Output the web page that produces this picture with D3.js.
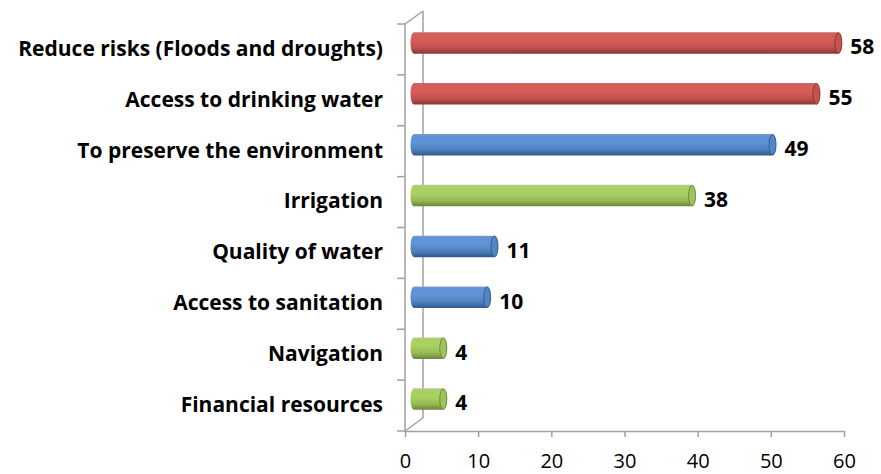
<!DOCTYPE html>
<html>
<head>
<meta charset="utf-8">
<script src="https://cdn.jsdelivr.net/npm/d3@7"></script>
<style>
	html, body { margin: 0; padding: 0; background: #ffffff; }
	svg { display: block; }
	.cat { font-family: "Open Sans", sans-serif; font-weight: bold; font-size: 21px; fill: #000; }
	.val { font-family: "Open Sans", sans-serif; font-weight: bold; font-size: 21px; fill: #000; }
	.xaxis text { font-family: "Open Sans", sans-serif; font-size: 20px; fill: #000; }
</style>
</head>
<body>
<script>
	// DATA //

	var categories = [
		'Reduce risks (Floods and droughts)',
		'Access to drinking water',
		'To preserve the environment',
		'Irrigation',
		'Quality of water',
		'Access to sanitation',
		'Navigation',
		'Financial resources'
	];

	var values = [ 58, 55, 49, 38, 11, 10, 4, 4 ];

	// colour group of each bar:
	var groups = [ 'red', 'red', 'blue', 'green', 'blue', 'blue', 'green', 'green' ];

	var xTicks = [ 0, 10, 20, 30, 40, 50, 60 ];


	// VARIABLES //

	var WIDTH = 881,
		HEIGHT = 474,
		LEFT = 405,
		RIGHT = 844,
		TOP = 24,
		BOTTOM = 431,
		DX = 18,   // depth offset of the back wall
		DY = -13,
		BAR_R = 10.8,
		CAP_RX = 3.5,
		AXIS_COLOR = '#a0a0a0';

	var palette = {
		red:   { edge: '#b9706e', dark: '#8a3735', mid: '#c0504d', light: '#d85d59', cap: '#c55451', rim: '#8e3835' },
		blue:  { edge: '#7f9cc2', dark: '#31578a', mid: '#4f81bd', light: '#5f93d6', cap: '#5485c3', rim: '#355f92' },
		green: { edge: '#b8c99a', dark: '#6a853a', mid: '#98bb55', light: '#a9d062', cap: '#9fc35c', rim: '#708c3e' }
	};


	// CANVAS //

	var svg = d3.select( 'body' ).append( 'svg' )
		.attr( 'width', WIDTH )
		.attr( 'height', HEIGHT );

	var defs = svg.append( 'defs' );

	Object.keys( palette ).forEach( function ( k ) {
		var p = palette[ k ];
		var g = defs.append( 'linearGradient' )
			.attr( 'id', 'grad-' + k )
			.attr( 'x1', 0 ).attr( 'y1', 0 )
			.attr( 'x2', 0 ).attr( 'y2', 1 );
		g.append( 'stop' ).attr( 'offset', '0%' ).attr( 'stop-color', p.edge );
		g.append( 'stop' ).attr( 'offset', '10%' ).attr( 'stop-color', p.light );
		g.append( 'stop' ).attr( 'offset', '40%' ).attr( 'stop-color', p.light );
		g.append( 'stop' ).attr( 'offset', '72%' ).attr( 'stop-color', p.mid );
		g.append( 'stop' ).attr( 'offset', '100%' ).attr( 'stop-color', p.dark );
	});


	// SCALES //

	var x = d3.scaleLinear()
		.domain( [ 0, 60 ] )
		.range( [ LEFT, RIGHT ] );

	var y = d3.scaleBand()
		.domain( categories )
		.range( [ TOP, BOTTOM ] );


	// WALLS //

	var walls = svg.append( 'g' )
		.attr( 'class', 'walls' )
		.attr( 'fill', 'none' )
		.attr( 'stroke', AXIS_COLOR )
		.attr( 'stroke-width', 1.5 );

	// back wall edge:
	walls.append( 'line' )
		.attr( 'x1', LEFT + DX ).attr( 'y1', TOP + DY )
		.attr( 'x2', LEFT + DX ).attr( 'y2', BOTTOM + DY );

	// side wall diagonals:
	walls.append( 'line' )
		.attr( 'x1', LEFT ).attr( 'y1', TOP )
		.attr( 'x2', LEFT + DX ).attr( 'y2', TOP + DY );
	walls.append( 'line' )
		.attr( 'x1', LEFT ).attr( 'y1', BOTTOM )
		.attr( 'x2', LEFT + DX ).attr( 'y2', BOTTOM + DY );

	// front category axis:
	walls.append( 'line' )
		.attr( 'x1', LEFT ).attr( 'y1', TOP )
		.attr( 'x2', LEFT ).attr( 'y2', BOTTOM );

	// category tick marks at band boundaries:
	var bounds = categories.map( function ( c ) { return y( c ); } ).concat( [ BOTTOM ] );
	walls.selectAll( 'line.ytick' )
		.data( bounds )
	  .enter().append( 'line' )
		.attr( 'class', 'ytick' )
		.attr( 'x1', LEFT - 8 ).attr( 'x2', LEFT )
		.attr( 'y1', function ( d ) { return d; } )
		.attr( 'y2', function ( d ) { return d; } );


	// X AXIS //

	var xAxis = d3.axisBottom( x )
		.tickValues( xTicks )
		.tickSize( 6 )
		.tickSizeOuter( 0 )
		.tickPadding( 17 );

	var gx = svg.append( 'g' )
		.attr( 'class', 'xaxis' )
		.attr( 'transform', 'translate(0,' + BOTTOM + ')' )
		.call( xAxis );

	gx.select( '.domain' )
		.attr( 'stroke', AXIS_COLOR )
		.attr( 'stroke-width', 1.5 );
	gx.selectAll( '.tick line' )
		.attr( 'stroke', AXIS_COLOR )
		.attr( 'stroke-width', 1.5 );
	gx.attr( 'font-family', null ).attr( 'font-size', null );


	// BARS //

	var data = categories.map( function ( c, i ) {
		return { cat: c, value: values[ i ], group: groups[ i ] };
	});

	function cy( d ) {
		return y( d.cat ) + y.bandwidth() / 2 + DY / 2;
	}

	var bars = svg.append( 'g' )
		.attr( 'class', 'bars' )
		.selectAll( 'g.bar' )
		.data( data )
	  .enter().append( 'g' )
		.attr( 'class', 'bar' );

	// cylinder body:
	bars.append( 'path' )
		.attr( 'fill', function ( d ) { return 'url(#grad-' + d.group + ')'; } )
		.attr( 'd', function ( d ) {
			var x0 = x( 0 ) + DX / 2,
				x1 = x( d.value ) + DX / 2,
				yt = cy( d ) - BAR_R,
				yb = cy( d ) + BAR_R;
			return 'M' + x0 + ',' + yt +
				'L' + x1 + ',' + yt +
				'A' + CAP_RX + ',' + BAR_R + ' 0 0 1 ' + x1 + ',' + yb +
				'L' + x0 + ',' + yb +
				'A' + CAP_RX + ',' + BAR_R + ' 0 0 1 ' + x0 + ',' + yt + 'Z';
		});

	// end cap:
	bars.append( 'ellipse' )
		.attr( 'cx', function ( d ) { return x( d.value ) + DX / 2; } )
		.attr( 'cy', cy )
		.attr( 'rx', CAP_RX )
		.attr( 'ry', BAR_R - 0.5 )
		.attr( 'fill', function ( d ) { return palette[ d.group ].cap; } )
		.attr( 'stroke', function ( d ) { return palette[ d.group ].rim; } )
		.attr( 'stroke-width', 1 );

	// value labels:
	bars.append( 'text' )
		.attr( 'class', 'val' )
		.attr( 'x', function ( d ) { return x( d.value ) + 21; } )
		.attr( 'y', function ( d ) { return cy( d ) + 4; } )
		.attr( 'dy', '0.35em' )
		.text( function ( d ) { return d.value; } );


	// CATEGORY LABELS //

	svg.append( 'g' )
		.attr( 'class', 'cats' )
		.selectAll( 'text' )
		.data( categories )
	  .enter().append( 'text' )
		.attr( 'class', 'cat' )
		.attr( 'x', 383 )
		.attr( 'y', function ( d ) { return y( d ) + y.bandwidth() / 2 - 1; } )
		.attr( 'dy', '0.35em' )
		.attr( 'text-anchor', 'end' )
		.text( function ( d ) { return d; } );
</script>
</body>
</html>
